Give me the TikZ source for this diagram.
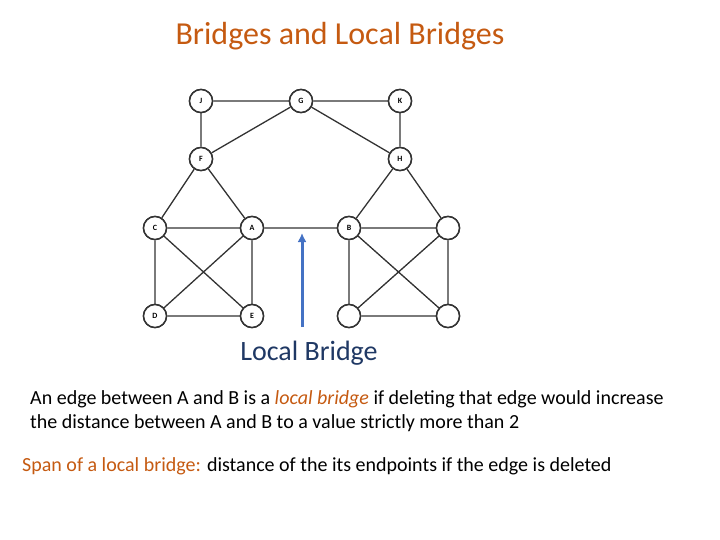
\documentclass[tikz,border=0pt]{standalone}
\usepackage{fontspec}
\setmainfont{Carlito}
\usetikzlibrary{arrows.meta}
\begin{document}
\begin{tikzpicture}[x=1pt,y=-1pt,
  v/.style={circle,draw=black!80,line width=1.5pt,fill=white,minimum size=23pt,inner sep=0pt,font=\fontsize{8}{9}\selectfont\bfseries},
  e/.style={draw=black!80,line width=1.3pt},
  txt/.style={anchor=west,inner sep=0pt,font=\fontsize{20}{24}\selectfont}]
\definecolor{org}{RGB}{197,90,17}
\definecolor{blu}{RGB}{68,114,196}
\definecolor{dk}{RGB}{31,56,100}
\path[use as bounding box] (0,0) rectangle (720,540);
\node (J) [v] at (201,101) {J};
\node (G) [v] at (301,101) {G};
\node (K) [v] at (400,101) {K};
\node (F) [v] at (201,159) {F};
\node (H) [v] at (400,159) {H};
\node (C) [v] at (155,228) {C};
\node (A) [v] at (252,228) {A};
\node (B) [v] at (349,228) {B};
\node (R1) [v] at (448,228) {};
\node (D) [v] at (155,316) {D};
\node (E) [v] at (252,316) {E};
\node (R2) [v] at (349,316) {};
\node (R3) [v] at (448,316) {};
\draw[e] (J)--(G) (G)--(K) (J)--(F) (G)--(F) (G)--(H) (K)--(H)
 (F)--(C) (F)--(A) (H)--(B) (H)--(R1)
 (C)--(A) (A)--(B) (B)--(R1)
 (C)--(D) (C)--(E) (A)--(D) (A)--(E) (D)--(E)
 (B)--(R2) (B)--(R3) (R1)--(R2) (R1)--(R3) (R2)--(R3);
\foreach \n/\l in {J/J,G/G,K/K,F/F,H/H,C/C,A/A,B/B,R1/,D/D,E/E,R2/,R3/} {\path (\n) node[v] {\l};}
\coordinate (arS) at (302,327);
\coordinate (arE) at (302,233);
\draw[blu,line width=3pt,-{Latex[length=9pt,width=9pt]}] (arS)--(arE);
\node (title) at (340,36) [font=\fontsize{32}{36}\selectfont,text=org] {Bridges and Local Bridges};
\node (lb) at (309,353) [font=\fontsize{28}{32}\selectfont,text=dk] {Local Bridge};
\node (p1) [txt] at (30,399) {An edge between A and B is a \textcolor{org}{\itshape local bridge} if deleting that edge would increase};
\node (p2) [txt] at (30,423) {the distance between A and B to a value strictly more than 2};
\node (p3) [txt] at (22,466) {\textcolor{org}{Span of a local bridge:} distance of the its endpoints if the edge is deleted};
\end{tikzpicture}
\end{document}
